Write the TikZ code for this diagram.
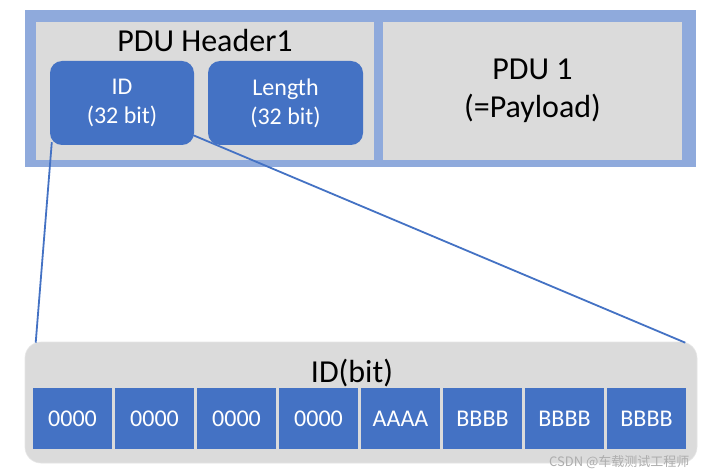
\documentclass[tikz,border=0pt]{standalone}
\usepackage{fontspec}
\setmainfont{Carlito}
\newfontfamily\cjk{Noto Sans CJK SC}
\definecolor{frameblue}{HTML}{8FAADC}
\definecolor{boxblue}{HTML}{4472C4}
\definecolor{panelgray}{HTML}{DBDBDB}
\begin{document}
\begin{tikzpicture}[x=1pt,y=-1pt,
  panel/.style={fill=panelgray,draw=none,inner sep=0pt,align=center,font=\fontsize{32}{38}\selectfont},
  field/.style={fill=boxblue,draw=none,rounded corners=12pt,inner sep=0pt,align=center,text=white,font=\fontsize{24}{29}\selectfont},
  cell/.style={fill=boxblue,draw=none,inner sep=0pt,minimum width=79pt,minimum height=61pt,text=white,font=\fontsize{24}{29}\selectfont},
  link/.style={draw=boxblue,line width=1.8pt}]
\useasboundingbox (0,0) rectangle (704,473);
\fill[white] (0,0) rectangle (704,473);
% top frame
\node[fill=frameblue,inner sep=0pt,minimum width=671pt,minimum height=157pt] (frame) at (360.5,88.5) {};
\node[panel,minimum width=338pt,minimum height=138pt] (hdr) at (204.5,91) {};
\node[panel,minimum width=299pt,minimum height=138pt] (pdu) at (532.5,91) {PDU 1\\(=Payload)};
\node[anchor=base,font=\fontsize{32}{38}\selectfont] (hdrlbl) at (205,52) {PDU Header1};
\node[field,minimum width=144pt,minimum height=84pt] (id) at (122,103) {ID\\(32 bit)};
\node[field,minimum width=155pt,minimum height=84pt] (len) at (285.5,103) {Length\\(32 bit)};
% bottom panel
\node[fill=panelgray,draw=panelgray!70!white,line width=0.6pt,rounded corners=16pt,inner sep=0pt,minimum width=672pt,minimum height=121pt] (bits) at (361,402.5) {};
\node[anchor=base,font=\fontsize{32}{38}\selectfont] (bitslbl) at (352,382) {ID(bit)};
\foreach \t [count=\i from 0] in {0000,0000,0000,0000,AAAA,BBBB,BBBB,BBBB}{
  \node[cell] (c\i) at (72.5+82*\i,418.5) {\t};
}
% connectors
\draw[link] ([xshift=2pt,yshift=3pt]id.south west) -- ([xshift=11pt,yshift=-1pt]bits.north west);
\draw[link] ([xshift=-1pt,yshift=10pt]id.south east) -- ([xshift=-12pt,yshift=-1pt]bits.north east);
% watermark
\node[anchor=base east,text=black!32,font=\cjk\fontsize{13}{15}\selectfont] (wm) at (693,466) {CSDN @车载测试工程师};
\end{tikzpicture}
\end{document}
